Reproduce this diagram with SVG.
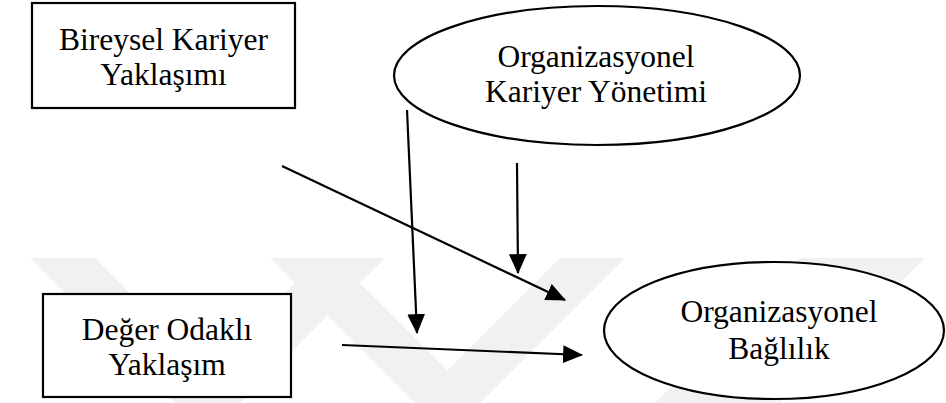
<svg xmlns="http://www.w3.org/2000/svg" width="946" height="403" viewBox="0 0 946 403">
  <style>
    .node { fill: #ffffff; stroke: #000000; stroke-width: 2.2; }
    .label { font-family: "Liberation Serif", "Times New Roman", serif; font-size: 31.5px; fill: #000000; text-anchor: middle; }
    .conn { stroke: #000000; stroke-width: 2.2; fill: none; marker-end: url(#arrow); }
    .wm { fill: #f1f1f1; }
  </style>
  <defs>
    <marker id="arrow" markerUnits="userSpaceOnUse" markerWidth="20" markerHeight="20" viewBox="0 0 18 16" refX="17" refY="8" orient="auto">
      <path d="M0,0 L18,8 L0,16 Z" fill="#000000"/>
    </marker>
  </defs>

  <g id="watermark">
    <polygon class="wm" points="30,258 95,258 240,403 175,403"/>
    <polygon class="wm" points="175,403 240,403 385,258 320,258"/>
    <polygon class="wm" points="270,258 335,258 480,403 415,403"/>
    <polygon class="wm" points="415,403 480,403 625,258 560,258"/>
    <polygon class="wm" points="800,258 865,258 720,403 655,403"/>
    <polygon class="wm" points="860,258 925,258 780,403 715,403"/>
  </g>

  <g id="bireysel">
    <rect class="node" x="32" y="3" width="263" height="105"/>
    <text class="label" x="163.5" y="50">Bireysel Kariyer</text>
    <text class="label" x="163.5" y="85">Yaklaşımı</text>
  </g>

  <g id="kariyer-yonetimi">
    <ellipse class="node" cx="597" cy="75.5" rx="203" ry="69.5"/>
    <text class="label" x="596" y="67">Organizasyonel</text>
    <text class="label" x="596" y="102">Kariyer Yönetimi</text>
  </g>

  <g id="deger">
    <rect class="node" x="43" y="294" width="248" height="103"/>
    <text class="label" x="167" y="340">Değer Odaklı</text>
    <text class="label" x="167" y="375">Yaklaşım</text>
  </g>

  <g id="baglilik">
    <ellipse class="node" cx="774" cy="330.5" rx="170" ry="68.5"/>
    <text class="label" x="779" y="322">Organizasyonel</text>
    <text class="label" x="779" y="359">Bağlılık</text>
  </g>

  <g id="connectors">
    <line class="conn" x1="282" y1="166" x2="565" y2="300"/>
    <line class="conn" x1="407" y1="110" x2="417" y2="333"/>
    <line class="conn" x1="517" y1="163" x2="518" y2="273"/>
    <line class="conn" x1="342" y1="345" x2="582" y2="355"/>
  </g>
</svg>
